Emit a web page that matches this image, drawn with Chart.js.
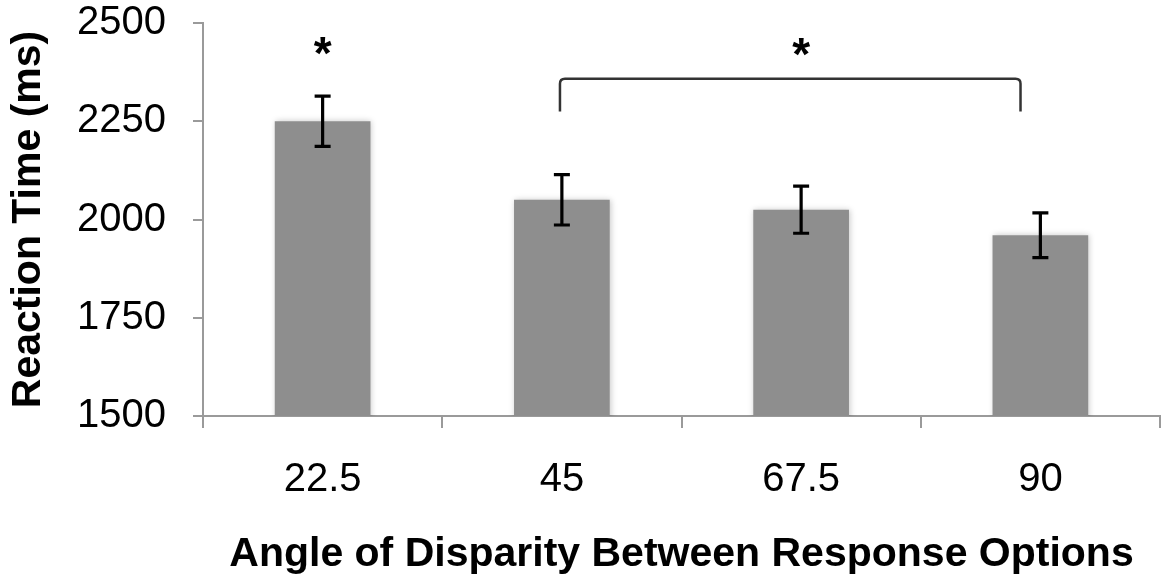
<!DOCTYPE html>
<html>
<head>
<meta charset="utf-8">
<script src="https://cdn.jsdelivr.net/npm/chart.js@4/dist/chart.umd.min.js"></script>
<style>
    body { margin: 0; background: #fff; }
    #wrap { width: 1161px; height: 580px; }
</style>
</head>
<body>
<div id="wrap"><canvas id="rtChart" width="1161" height="580"></canvas></div>
<script>
// mean reaction time per angle, with the error bar half-length
let angles = ['22.5', '45', '67.5', '90'];
let reactionTimes = [2250, 2050, 2025, 1960];
let errors = [64, 64, 60, 57];
let yTicks = [1500, 1750, 2000, 2250, 2500];

// significance marks, placed in axis units (category index, ms)
let singleStar = { index: 0, value: 2383 };
let bracket = { from: 0.992, to: 2.917, top: 2358, bottom: 2275 };
let bracketStar = { index: 2, value: 2380 };

let fontFamily = "'Liberation Sans', Arial, Helvetica, sans-serif";
let axisGray = '#9a9a9a';

// soft shadow round the bars
const barShadowPlugin = {
    id: 'barShadow',
    beforeDatasetDraw(chart) {
        const ctx = chart.ctx;
        ctx.save();
        ctx.shadowColor = 'rgba(0, 0, 0, 0.22)';
        ctx.shadowBlur = 6;
        ctx.shadowOffsetX = 1;
        ctx.shadowOffsetY = 0;
    },
    afterDatasetDraw(chart) {
        chart.ctx.restore();
    }
};

// error bars on top of each bar
const errorBarPlugin = {
    id: 'errorBars',
    afterDatasetsDraw(chart) {
        const ctx = chart.ctx;
        const meta = chart.getDatasetMeta(0);
        const y = chart.scales.y;
        ctx.save();
        ctx.strokeStyle = '#000';
        ctx.lineWidth = 3.2;
        meta.data.forEach((bar, i) => {
            const top = y.getPixelForValue(reactionTimes[i] + errors[i]);
            const bottom = y.getPixelForValue(reactionTimes[i] - errors[i]);
            const x = bar.x;
            ctx.beginPath();
            ctx.moveTo(x, top);
            ctx.lineTo(x, bottom);
            ctx.moveTo(x - 8, top);
            ctx.lineTo(x + 8, top);
            ctx.moveTo(x - 8, bottom);
            ctx.lineTo(x + 8, bottom);
            ctx.stroke();
        });
        ctx.restore();
    }
};

// asterisks and the bracket between 45 and 90
const significancePlugin = {
    id: 'significance',
    afterDraw(chart) {
        const ctx = chart.ctx;
        const x = chart.scales.x;
        const y = chart.scales.y;
        ctx.save();
        ctx.fillStyle = '#000';
        ctx.font = 'bold 46px ' + fontFamily;
        ctx.textAlign = 'center';
        ctx.textBaseline = 'alphabetic';
        ctx.fillText('*', x.getPixelForValue(singleStar.index), y.getPixelForValue(singleStar.value));
        ctx.fillText('*', x.getPixelForValue(bracketStar.index), y.getPixelForValue(bracketStar.value));

        const x1 = x.getPixelForValue(bracket.from);
        const x2 = x.getPixelForValue(bracket.to);
        const yt = y.getPixelForValue(bracket.top);
        const yb = y.getPixelForValue(bracket.bottom);
        const r = 5;
        ctx.strokeStyle = '#333';
        ctx.lineWidth = 2.5;
        ctx.beginPath();
        ctx.moveTo(x1, yb);
        ctx.lineTo(x1, yt + r);
        ctx.quadraticCurveTo(x1, yt, x1 + r, yt);
        ctx.lineTo(x2 - r, yt);
        ctx.quadraticCurveTo(x2, yt, x2, yt + r);
        ctx.lineTo(x2, yb);
        ctx.stroke();
        ctx.restore();
    }
};

const ctx = document.getElementById('rtChart').getContext('2d');
const chart = new Chart(ctx, {
    type: 'bar',
    data: {
        labels: angles,
        datasets: [{
            data: reactionTimes,
            backgroundColor: '#8e8e8e',
            borderWidth: 0,
            barPercentage: 0.4,
            categoryPercentage: 1.0
        }]
    },
    options: {
        responsive: false,
        animation: false,
        devicePixelRatio: 1,
        layout: { padding: { top: 23, right: 1, left: 0, bottom: 0 } },
        plugins: {
            legend: { display: false },
            tooltip: { enabled: false }
        },
        scales: {
            x: {
                grid: {
                    offset: true,
                    drawOnChartArea: false,
                    drawTicks: true,
                    tickLength: 12,
                    color: axisGray,
                    lineWidth: 2
                },
                border: { color: axisGray, width: 2 },
                ticks: {
                    color: '#000',
                    font: { family: fontFamily, size: 40 },
                    padding: 28,
                    maxRotation: 0
                },
                title: {
                    display: true,
                    text: 'Angle of Disparity Between Response Options',
                    color: '#000',
                    font: { family: fontFamily, size: 41, weight: 'bold' },
                    padding: { top: 0, bottom: 1 }
                },
                afterFit(scale) { scale.height = 164; }
            },
            y: {
                min: 1500,
                max: 2500,
                afterBuildTicks(scale) {
                    scale.ticks = yTicks.map(v => ({ value: v }));
                },
                grid: {
                    drawOnChartArea: false,
                    drawTicks: true,
                    tickLength: 10,
                    color: axisGray,
                    lineWidth: 2
                },
                border: { color: axisGray, width: 2 },
                ticks: {
                    color: '#000',
                    font: { family: fontFamily, size: 40 },
                    padding: 27,
                    callback: value => String(value)
                },
                title: {
                    display: true,
                    text: 'Reaction Time (ms)',
                    color: '#000',
                    font: { family: fontFamily, size: 41, weight: 'bold' },
                    padding: { top: 4, bottom: 0 }
                },
                afterFit(scale) {
                    scale.width = 203;
                    // the outer tick labels may overhang the plot edges
                    scale.paddingTop = 0;
                    scale.paddingBottom = 0;
                }
            }
        }
    },
    plugins: [barShadowPlugin, errorBarPlugin, significancePlugin]
});
</script>
</body>
</html>
